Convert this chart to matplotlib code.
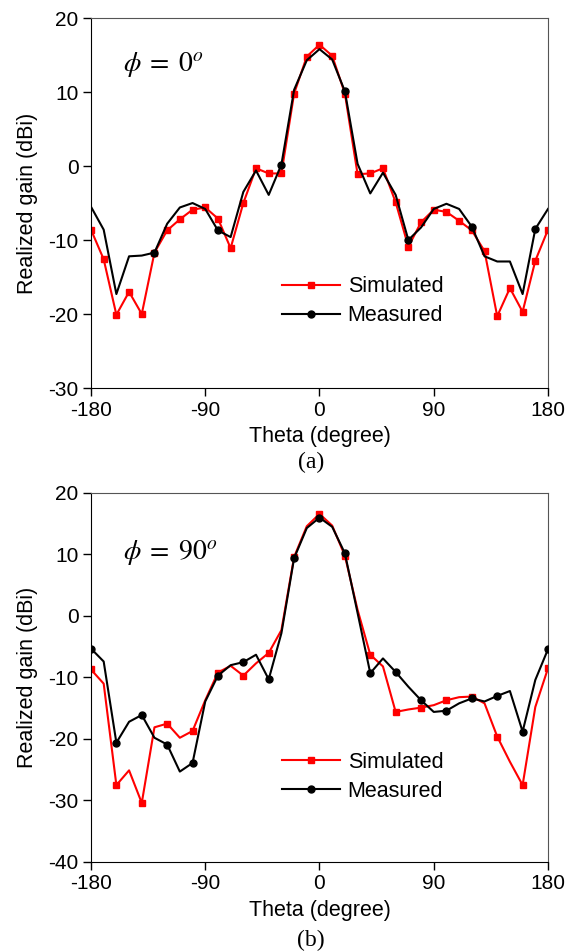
import matplotlib
matplotlib.use("Agg")
import matplotlib.pyplot as plt

plt.rcParams["font.family"] = ["Liberation Sans", "DejaVu Sans"]
plt.rcParams["mathtext.fontset"] = "stix"
plt.rcParams["axes.unicode_minus"] = False

# elevation angle grid, 10 degree steps
theta = list(range(-180, 190, 10))

# phi = 0 cut
sim_phi0 = [-8.6, -12.6, -20.1, -17.0, -20.0, -11.7, -8.7, -7.2, -5.9, -5.6,
            -7.1, -11.1, -5.0, -0.3, -1.0, -1.0, 9.8, 14.8, 16.4,
            14.9, 9.8, -1.1, -1.0, -0.3, -4.9, -10.9, -7.6, -5.9, -6.2,
            -7.4, -8.7, -11.5, -20.3, -16.5, -19.7, -12.8, -8.6]
meas_phi0 = [-5.5, -8.6, -17.3, -12.2, -12.1, -11.7, -7.8, -5.6, -5.0, -5.8,
             -8.7, -9.6, -3.5, -0.6, -3.9, 0.2, 10.3, 14.3, 15.8,
             14.4, 10.1, 0.3, -3.7, -0.9, -3.9, -10.0, -8.3, -5.8, -5.1,
             -5.8, -8.2, -12.2, -12.9, -12.9, -17.3, -8.5, -5.8]

# phi = 90 cut
sim_phi90 = [-8.7, -11.0, -27.5, -25.1, -30.4, -18.1, -17.5, -19.8, -18.7, -13.7,
             -9.2, -8.1, -9.7, -7.7, -6.0, -2.3, 9.6, 14.6, 16.6,
             14.7, 9.8, 1.0, -6.3, -8.2, -15.6, -15.2, -14.9, -14.5, -13.7,
             -13.2, -13.1, -14.2, -19.6, -23.7, -27.5, -14.8, -8.5]
meas_phi90 = [-5.3, -7.4, -20.6, -17.2, -16.1, -19.8, -20.9, -25.3, -23.9, -13.9,
              -9.7, -8.0, -7.5, -6.3, -10.3, -2.8, 9.4, 14.3, 16.0,
              14.5, 10.2, 0.5, -9.3, -6.9, -9.1, -11.5, -13.7, -15.6, -15.4,
              -14.2, -13.4, -13.9, -13.0, -12.2, -18.8, -10.4, -5.4]

panels = [
    dict(sim=sim_phi0, meas=meas_phi0, ylim=(-30, 20), yticks=range(-30, 21, 10),
         sim_every=1, meas_every=(5, 5), phi=r"$\phi\; =\; 0^o$", tag="(a)",
         rect=[0.1566, 0.592, 0.7866, 0.389], phi_y=0.875, leg_y=0.302, tag_y=0.503),
    dict(sim=sim_phi90, meas=meas_phi90, ylim=(-40, 20), yticks=range(-40, 21, 10),
         sim_every=2, meas_every=2, phi=r"$\phi\; =\; 90^o$", tag="(b)",
         rect=[0.1566, 0.0936, 0.7866, 0.388], phi_y=0.84, leg_y=0.299, tag_y=0.0),
]

fig = plt.figure(figsize=(5.81, 9.51), dpi=100)

for p in panels:
    ax = fig.add_axes(p["rect"])
    ax.plot(theta, p["sim"], color="#ff0000", lw=1.5, marker="s", ms=5,
            markevery=p["sim_every"], label="Simulated", zorder=2)
    ax.plot(theta, p["meas"], color="black", lw=1.5, marker="o", ms=5,
            markevery=p["meas_every"], label="Measured", zorder=3)

    ax.set_xlim(-180, 180)
    ax.set_ylim(*p["ylim"])
    ax.set_xticks([-180, -90, 0, 90, 180])
    ax.set_yticks(list(p["yticks"]))
    ax.tick_params(direction="out", length=6, width=1, labelsize=15, pad=3,
                   top=False, right=False)
    for side in ["left", "bottom"]:
        ax.spines[side].set_color("black")
    for side in ["top", "right"]:
        ax.spines[side].set_color("#555555")

    ax.set_xlabel("Theta (degree)", fontsize=15.5, labelpad=5)
    ax.set_ylabel("Realized gain (dBi)", fontsize=15.5)
    ax.yaxis.set_label_coords(-0.116, 0.5)

    ax.text(0.07, p["phi_y"], p["phi"], transform=ax.transAxes,
            fontsize=20, va="center", ha="left")

    ax.legend(loc="upper left", bbox_to_anchor=(0.418, p["leg_y"]), frameon=False,
              fontsize=15.5, handlelength=2.7, handletextpad=0.35, labelspacing=0.38,
              borderpad=0, borderaxespad=0)

    fig.text(0.535, p["tag_y"], p["tag"], fontsize=17, ha="center", va="bottom",
             family="Liberation Serif")

fig.savefig("out.png", dpi=100)
